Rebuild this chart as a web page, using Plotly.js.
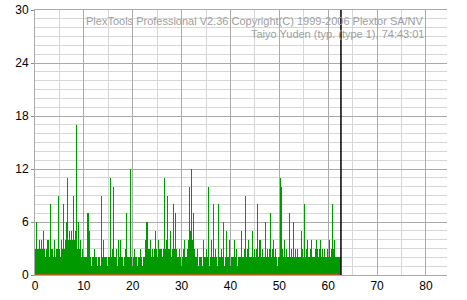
<!DOCTYPE html>
<html>
<head>
<meta charset="utf-8">
<script src="https://cdn.plot.ly/plotly-3.0.1.min.js"></script>
<style>html,body{margin:0;padding:0;background:#fff;}#chart{width:467px;height:300px;}</style>
</head>
<body>
<div id="chart"></div>
<script>
// C1 error counts, one sample every 0.2 minutes from 0 to end of disc
const c1Errors = [
  3,6,3,3,4,  3,4,3,5,3,  2,3,4,4,2,  8,3,3,2,4,  2,3,5,3,9,
  3,2,4,3,8,  3,4,6,11,4, 5,4,5,4,9,  4,5,17,3,6, 3,4,2,3,2,
  2,2,2,7,7,  5,2,1,2,2,  3,2,2,1,2,  2,2,1,9,2,  4,2,2,2,1,
  2,2,11,2,3, 10,2,2,3,1, 4,2,4,2,2,  1,2,3,7,2,  2,2,12,2,1,
  2,3,2,2,1,  2,2,3,2,1,  2,3,2,4,6,  6,3,3,4,2,  3,2,3,5,3,
  2,4,3,3,3,  2,3,11,3,4, 9,3,3,5,2,  3,8,3,7,3,  2,2,3,2,1,
  2,3,4,2,2,  6,3,4,10,5, 12,4,7,3,2, 2,3,1,2,2,  2,1,4,2,2,
  3,2,10,1,2, 4,2,8,2,3,  2,1,8,2,2,  3,2,6,1,2,  5,2,2,4,2,
  1,2,2,2,4,  2,3,1,2,2,  2,5,2,2,3,  9,2,3,4,2,  2,2,5,2,3,
  2,3,8,2,4,  4,2,3,2,2,  6,2,3,2,3,  7,2,3,4,2,  2,3,2,1,2,
  2,11,10,3,2, 4,2,3,2,2, 7,2,3,2,6,  2,3,2,3,2,  2,2,5,3,2,
  8,2,3,4,2,  2,3,4,2,2,  2,3,4,2,3,  2,3,4,2,3,  2,3,2,2,3,
  2,4,2,3,8,  3,4,2,2,2,  2,2,2
];
const sampleStart = 0.1;   // minutes (bar centre of first sample)
const sampleStep = 0.2;    // minutes per sample
const c2Minutes = [0, 62.6];
const c2Errors = [0, 0];
const discEnd = 62.6;      // minutes
const xTicks = [0, 10, 20, 30, 40, 50, 60, 70, 80];
const yTicks = [0, 6, 12, 18, 24, 30];
const headerLine1 = "PlexTools Professional V2.36 Copyright(C) 1999-2006 Plextor SA/NV";
const headerLine2 = "Taiyo Yuden (typ. (type 1), 74:43:01";

const fam = "Liberation Sans, Arial, sans-serif";

const traces = [
  {
    type: "bar",
    y: c1Errors,
    x0: sampleStart,
    dx: sampleStep,
    width: sampleStep,
    marker: {color: "#009a00", line: {width: 0}},
    hoverinfo: "skip"
  },
  {
    type: "scatter",
    mode: "lines",
    x: c2Minutes,
    y: c2Errors,
    line: {color: "#e0502a", width: 1.5},
    cliponaxis: false,
    hoverinfo: "skip"
  }
];

const layout = {
  width: 467,
  height: 300,
  margin: {l: 35, r: 20, t: 10, b: 25},
  paper_bgcolor: "#fff",
  plot_bgcolor: "#fff",
  showlegend: false,
  bargap: 0,
  font: {family: fam, size: 12, color: "#000"},
  xaxis: {
    range: [0, 84.3],
    tickvals: xTicks,
    ticktext: xTicks.map(String),
    showgrid: true,
    gridcolor: "#aaaaaa",
    gridwidth: 1,
    minor: {dtick: 5, tick0: 0, showgrid: true, gridcolor: "#d6d6d6", gridwidth: 1},
    showline: true,
    linecolor: "#aaaaaa",
    mirror: true,
    zeroline: false,
    ticks: "",
    tickfont: {family: fam, size: 12, color: "#000"}
  },
  yaxis: {
    range: [0, 30],
    tickvals: yTicks,
    ticktext: yTicks.map(String),
    showgrid: true,
    gridcolor: "#aaaaaa",
    gridwidth: 1,
    minor: {dtick: 1, tick0: 0, showgrid: true, gridcolor: "#d6d6d6", gridwidth: 1},
    showline: true,
    linecolor: "#aaaaaa",
    zeroline: false,
    ticks: "outside",
    ticklen: 3,
    tickcolor: "#888",
    tickfont: {family: fam, size: 12, color: "#000"}
  },
  shapes: [
    {type: "line", xref: "x", yref: "y", x0: discEnd, x1: discEnd, y0: 0, y1: 30,
     line: {color: "#000", width: 1.5}}
  ],
  annotations: [
    {xref: "paper", yref: "paper", x: 0.948, y: 0.99, xanchor: "right", yanchor: "top",
     text: headerLine1, showarrow: false,
     font: {family: fam, size: 11, color: "#a0a0a0"}},
    {xref: "paper", yref: "paper", x: 0.948, y: 0.94, xanchor: "right", yanchor: "top",
     text: headerLine2, showarrow: false,
     font: {family: fam, size: 11, color: "#a0a0a0"}}
  ]
};

Plotly.newPlot("chart", traces, layout, {staticPlot: true, displayModeBar: false});
</script>
</body>
</html>
